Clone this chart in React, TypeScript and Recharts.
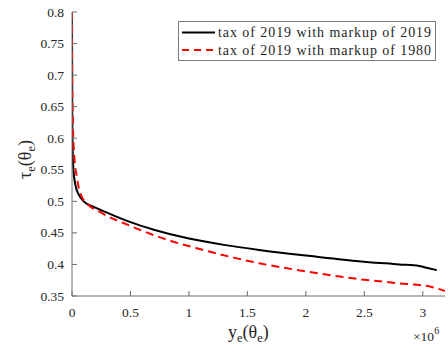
import React from 'react';
import { LineChart, Line, XAxis, YAxis, Label } from 'recharts';

// income y_e(theta_e) in units of 10^6
const income2019 = [0, 0.001, 0.003, 0.006, 0.012, 0.03, 0.06, 0.1, 0.2, 0.3, 0.5, 0.7, 1.0, 1.3, 1.6, 2.0, 2.4, 2.8, 2.97, 3.05, 3.12];
const tax2019 = [0.8, 0.7, 0.62, 0.58, 0.55, 0.525, 0.51, 0.5, 0.49, 0.482, 0.467, 0.455, 0.441, 0.431, 0.423, 0.414, 0.406, 0.4, 0.3975, 0.394, 0.391];

const income1980 = [0, 0.002, 0.008, 0.02, 0.04, 0.06, 0.09, 0.12, 0.25, 0.5, 0.8, 1.1, 1.4, 1.6, 2.0, 2.4, 2.8, 3.06, 3.19];
const tax1980 = [0.8, 0.7, 0.62, 0.57, 0.54, 0.52, 0.505, 0.498, 0.482, 0.461, 0.44, 0.424, 0.41, 0.402, 0.389, 0.378, 0.37, 0.365, 0.358];

const xTicks = [0, 0.5, 1, 1.5, 2, 2.5, 3];
const yTicks = [0.35, 0.4, 0.45, 0.5, 0.55, 0.6, 0.65, 0.7, 0.75, 0.8];

const seriesNames = ['tax of 2019 with markup of 2019', 'tax of 2019 with markup of 1980'];
const seriesColors = ['#000000', '#ff0000'];

const data2019 = income2019.map((x, i) => ({ x, y: tax2019[i] }));
const data1980 = income1980.map((x, i) => ({ x, y: tax1980[i] }));

const FONT = 'Liberation Serif';
const AXIS = '#6e6e6e';
const TEXT = '#262626';

const fmt = (v: number) => String(Number(v.toFixed(2)));

const XTick = (props: any) => {
  const { x, payload } = props;
  return (
    <text x={x} y={317} textAnchor="middle" fontFamily={FONT} fontSize={13.5} fill={TEXT}>
      {fmt(payload.value)}
    </text>
  );
};

const YTick = (props: any) => {
  const { y, payload } = props;
  return (
    <text x={64} y={y + 4.5} textAnchor="end" fontFamily={FONT} fontSize={13.5} fill={TEXT}>
      {fmt(payload.value)}
    </text>
  );
};

export default function App() {
  return (
    <div style={{ position: 'absolute', left: 0, top: 0, width: 448, height: 345, background: '#fff' }}>
      <LineChart width={448} height={345} margin={{ top: 12, right: 3, bottom: 0, left: 0 }}>
        <XAxis
          xAxisId="b"
          type="number"
          dataKey="x"
          domain={[0, 3.19]}
          ticks={xTicks}
          allowDataOverflow
          height={49}
          tickSize={-5}
          tick={<XTick />}
          axisLine={{ stroke: AXIS }}
          tickLine={{ stroke: AXIS }}
        >
          <Label
            content={() => (
              <g fontFamily={FONT} fill={TEXT}>
                <text x={228} y={338} fontSize={18}>
                  y<tspan fontSize={12.5} dy={4}>e</tspan>
                  <tspan dy={-4}>(θ</tspan>
                  <tspan fontSize={12.5} dy={4}>e</tspan>
                  <tspan dy={-4}>)</tspan>
                </text>
                <text x={413} y={341} fontSize={13.5}>
                  ×10<tspan fontSize={10} dy={-7}>6</tspan>
                </text>
              </g>
            )}
          />
        </XAxis>
        <XAxis
          xAxisId="t"
          orientation="top"
          type="number"
          dataKey="x"
          domain={[0, 3.19]}
          ticks={xTicks}
          allowDataOverflow
          height={0}
          tickSize={-5}
          tick={false}
          axisLine={{ stroke: AXIS }}
          tickLine={{ stroke: AXIS }}
        />
        <YAxis
          yAxisId="l"
          type="number"
          domain={[0.35, 0.8]}
          ticks={yTicks}
          allowDataOverflow
          width={72}
          tickSize={-5}
          tick={<YTick />}
          axisLine={{ stroke: AXIS }}
          tickLine={{ stroke: AXIS }}
        >
          <Label
            content={() => (
              <text
                transform="translate(31,179) rotate(-90)"
                x={0}
                y={0}
                fontFamily={FONT}
                fill={TEXT}
                fontSize={18}
              >
                τ<tspan fontSize={12.5} dy={4}>e</tspan>
                <tspan dy={-4}>(θ</tspan>
                <tspan fontSize={12.5} dy={4}>e</tspan>
                <tspan dy={-4}>)</tspan>
              </text>
            )}
          />
        </YAxis>
        <YAxis
          yAxisId="r"
          orientation="right"
          type="number"
          domain={[0.35, 0.8]}
          ticks={yTicks}
          allowDataOverflow
          width={0}
          tickSize={-5}
          tick={false}
          axisLine={{ stroke: AXIS }}
          tickLine={{ stroke: AXIS }}
        />
        <Line
          xAxisId="b"
          yAxisId="l"
          data={data2019}
          dataKey="y"
          name={seriesNames[0]}
          type="monotone"
          stroke={seriesColors[0]}
          strokeWidth={2}
          dot={false}
          isAnimationActive={false}
        />
        <Line
          xAxisId="b"
          yAxisId="l"
          data={data1980}
          dataKey="y"
          name={seriesNames[1]}
          type="monotone"
          stroke={seriesColors[1]}
          strokeWidth={2}
          strokeDasharray="8 5"
          dot={false}
          isAnimationActive={false}
        />
      </LineChart>
      <svg
        width={258}
        height={40}
        style={{ position: 'absolute', left: 178, top: 21, overflow: 'visible' }}
      >
        <rect x={0.5} y={0.5} width={257} height={39} fill="#fff" stroke="#7a7a7a" strokeWidth={1} />
        {seriesNames.map((name, i) => (
          <g key={name}>
            <line
              x1={4}
              x2={37}
              y1={11.5 + i * 17.5}
              y2={11.5 + i * 17.5}
              stroke={seriesColors[i]}
              strokeWidth={2}
              strokeDasharray={i === 1 ? '7 5' : undefined}
            />
            <text
              x={40}
              y={16 + i * 17.5}
              fontFamily={FONT}
              fontSize={14}
              fill={TEXT}
              textLength={213}
              lengthAdjust="spacing"
            >
              {name}
            </text>
          </g>
        ))}
      </svg>
    </div>
  );
}
